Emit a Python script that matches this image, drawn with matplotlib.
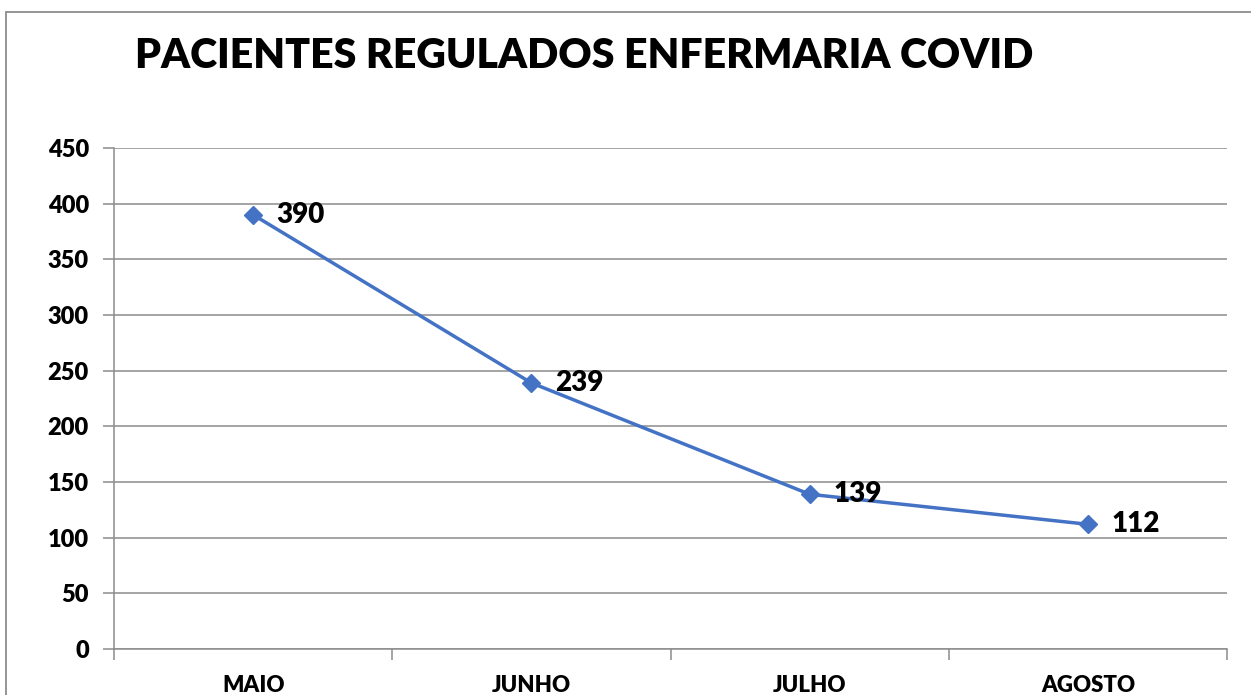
import matplotlib.pyplot as plt
from matplotlib.patches import Rectangle

# dados
meses = ['MAIO', 'JUNHO', 'JULHO', 'AGOSTO']
pacientes = [390, 239, 139, 112]
titulo = 'PACIENTES REGULADOS ENFERMARIA COVID'

plt.rcParams['font.family'] = ['Lato', 'DejaVu Sans']
peso = 'heavy'

fig = plt.figure(figsize=(12.51, 6.95), dpi=100)
ax = fig.add_axes([114 / 1251, 1 - 649 / 695, (1227 - 114) / 1251, (649 - 148) / 695])

# borda do gráfico (sai pela direita e por baixo)
fig.patches.append(Rectangle((6 / 1251, -0.1), 1.2, 1 - 12 / 695 + 0.1,
                             transform=fig.transFigure, fill=False,
                             edgecolor='#8c8c8c', linewidth=1.3))

x = [i + 0.5 for i in range(len(meses))]
ax.plot(x, pacientes, color='#4472C4', linewidth=2.5, marker='D', markersize=9)

for xi, v in zip(x, pacientes):
    ax.annotate(str(v), (xi, v), xytext=(17, 0), textcoords='offset points',
                fontsize=20, fontweight=peso, va='center', ha='left')

ax.set_xlim(0, len(meses))
ax.set_ylim(0, 450)
ax.set_yticks(range(0, 451, 50))
ax.yaxis.grid(True, color='#8c8c8c', linewidth=1.1)
ax.set_axisbelow(True)

ax.set_xticks(range(len(meses) + 1))
ax.set_xticklabels([])
ax.set_xticks(x, minor=True)
ax.set_xticklabels(meses, minor=True)
ax.tick_params(axis='x', which='major', length=8, color='#8c8c8c', width=1.1)
ax.tick_params(axis='x', which='minor', length=0, pad=26, labelsize=16)
ax.tick_params(axis='y', length=8, color='#8c8c8c', width=1.1, labelsize=17, pad=10)

for lab in ax.get_xticklabels(minor=True) + ax.get_yticklabels():
    lab.set_fontweight(peso)
for lab in ax.get_xticklabels(minor=True):
    lab.set_va('center')

for s in ['top', 'right']:
    ax.spines[s].set_visible(False)
for s in ['left', 'bottom']:
    ax.spines[s].set_color('#8c8c8c')
    ax.spines[s].set_linewidth(1.1)

fig.text(584 / 1251, 1 - 56 / 695, titulo, fontsize=29.5, fontweight=peso,
         ha='center', va='center')

fig.savefig('out.png', dpi=100)
